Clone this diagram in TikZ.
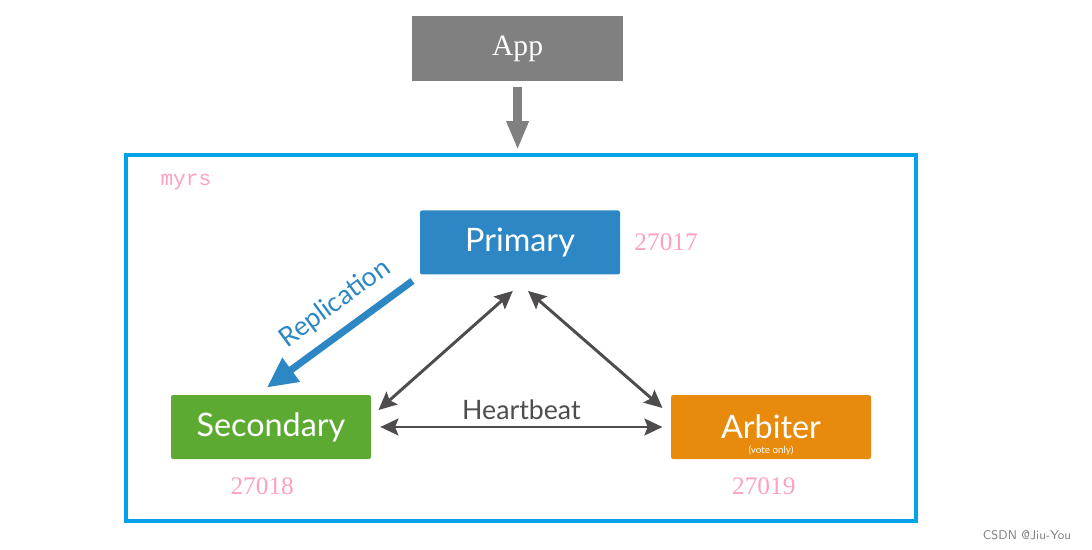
\documentclass[tikz,border=0pt]{standalone}
\usepackage{fontspec}
\setmainfont{Lato}
\newfontfamily\numfont{Liberation Serif}
\newfontfamily\codefont{Liberation Mono}
\usetikzlibrary{positioning,arrows.meta}
\tikzset{every picture/.style={line width=0.75pt}}
\definecolor{AppGray}{HTML}{808080}
\definecolor{FrameBlue}{HTML}{00A2E8}
\definecolor{PrimBlue}{HTML}{2C87C4}
\definecolor{SecGreen}{HTML}{5DAA33}
\definecolor{ArbOrange}{HTML}{E88B0C}
\definecolor{BeatGray}{HTML}{4E4C4C}
\definecolor{PortPink}{HTML}{FFA0C2}
\tikzset{
    appbox/.style={fill=AppGray, minimum width=5.275cm, minimum height=1.625cm, text=white, font=\numfont\fontsize{21}{25}\selectfont},
    member/.style={rounded corners=1.5pt, minimum width=5cm, minimum height=1.6cm, text=white, font=\fontsize{23}{27}\selectfont},
    port/.style={text=PortPink, font=\numfont\fontsize{18}{21}\selectfont, inner sep=1pt},
    beat/.style={draw=BeatGray, line width=2.1pt, {Stealth[length=0.45cm, width=0.42cm, inset=0.08cm]}-{Stealth[length=0.45cm, width=0.42cm, inset=0.08cm]}}
}

\begin{document}
\begin{tikzpicture}
            \useasboundingbox (0,0) rectangle (27.3,-13.725);
            \node[appbox] (App) at (12.94, -1.21) {App};
            \node[draw=FrameBlue, line width=2.8pt, minimum width=19.75cm, minimum height=9.15cm] (Frame) at (13.025, -8.45) {};
            \node[text=PortPink, font=\codefont\fontsize{15}{18}\selectfont, anchor=west, inner sep=0pt] (rsname) at ([shift={(0.9,-0.725)}]Frame.north west) {myrs};
            \node[member, fill=PrimBlue] (Primary) at (13.0, -6.06) {Primary};
            \node[member, fill=SecGreen] (Secondary) at (6.775, -10.675) {Secondary};
            \node[member, fill=ArbOrange] (Arbiter) at (19.275, -10.675) {Arbiter};
            \node[text=white, font=\fontsize{7}{8}\selectfont, inner sep=0pt] (vote) at ([yshift=0.225cm]Arbiter.south) {(vote only)};
            \node[port, right=0.3cm of Primary] (pport) {27017};
            \node[port, below=0.4cm of Secondary, xshift=-0.22cm] (sport) {27018};
            \node[port, below=0.4cm of Arbiter, xshift=-0.18cm] (aport) {27019};
            \node[text=gray, font=\fontsize{9}{11}\selectfont, inner sep=0pt] (mark) at (25.675, -13.375) {\sffamily CSDN @Jiu-You};
            % client goes to the replica set
            \draw[AppGray, line width=0.225cm, -{Triangle[length=0.72cm, width=0.52cm]}, shorten <=0.15cm, shorten >=0.08cm]
                (App.south) -- (App.south |- Frame.north);
            \draw[PrimBlue, line width=5pt, -{Triangle[length=0.75cm, width=0.7cm]}]
                ([shift={(-0.175,-0.15)}]Primary.south west) -- ([shift={(-0.1,0.175)}]Secondary.north)
                node[pos=0.42, sloped, above=5pt, text=PrimBlue, font=\fontsize{19}{22}\selectfont] (repl) {Replication};
            \draw[beat] ([shift={(-0.18,-0.4)}]Primary.south) -- ([shift={(0.175,0.425)}]Secondary.east);
            \draw[beat] ([shift={(0.2,-0.4)}]Primary.south) -- ([shift={(-0.2,0.475)}]Arbiter.west);
            \draw[beat] ([xshift=0.22cm]Secondary.east) -- ([xshift=-0.2cm]Arbiter.west)
                node[midway, above=1pt, text=BeatGray, font=\fontsize{19}{22}\selectfont] (hb) {Heartbeat};
        \end{tikzpicture}
\end{document}
